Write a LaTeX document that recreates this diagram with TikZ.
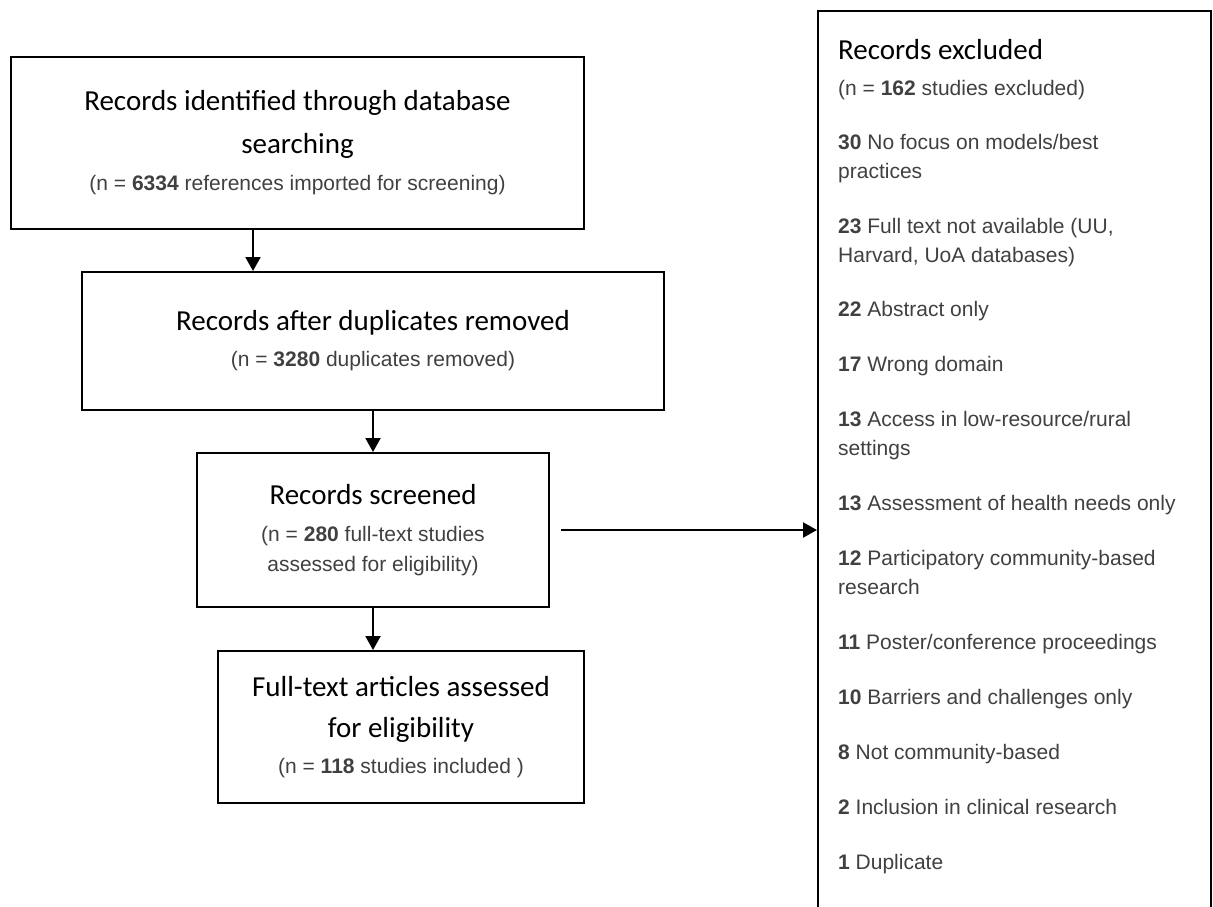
\documentclass[tikz,border=0pt]{standalone}
\usepackage{fontspec}
\setmainfont{Liberation Sans}
\newfontfamily\headfam{Carlito}
\usepackage{xcolor}
\usetikzlibrary{arrows.meta,positioning}
\definecolor{bodygray}{HTML}{404040}
\newcommand{\headtxt}{\headfam\fontsize{29}{43}\selectfont}
\newcommand{\subtxt}{\rmfamily\fontsize{21}{29}\selectfont\color{bodygray}}
\tikzset{
  stage/.style ={draw=black,line width=2pt,align=center,inner sep=0pt,font=\headtxt},
  excbox/.style={draw=black,line width=2pt,inner sep=0pt},
  flow/.style  ={-{Triangle[length=14pt,width=15pt]},line width=2pt,draw=black}
}

\begin{document}
\begin{tikzpicture}[x=1pt,y=-1pt]
  \useasboundingbox (0,0) rectangle (1213,906);
  % main stream
  \node[stage,minimum width=573pt,minimum height=172pt] (search) at (297.5,143)
    {Records identified through database\\searching\\[-6pt]
     {\subtxt (n = \textbf{6334} references imported for screening)}};
  \node[stage,minimum width=582pt,minimum height=138pt] (dedup) at (373,341)
    {Records after duplicates removed\\[-7pt]
     {\subtxt (n = \textbf{3280} duplicates removed)}};
  \node[stage,minimum width=352pt,minimum height=154pt] (screen) at (373,530)
    {Records screened\\[-6pt]
     {\subtxt (n = \textbf{280} full-text studies}\\[-13pt]
     {\subtxt assessed for eligibility)}};
  \node[stage,minimum width=366pt,minimum height=152pt] (full) at (401,727)
    {Full-text articles assessed\\[-2pt]for eligibility\\[-7pt]
     {\subtxt (n = \textbf{118} studies included )}};
  % exclusions
  \node[excbox,anchor=north west,minimum width=393pt,minimum height=930pt] (excl) at (817,10) {};
  \node[anchor=west,inner sep=0pt,font=\headtxt] (exhead) at (838,50) {Records excluded};
  \node[anchor=north west,inner sep=0pt,align=left,font=\subtxt] (exlist) at (838,80)
    {(n = \textbf{162} studies excluded)\\[25.5pt]
     \textbf{30} No focus on models/best\\practices\\[25.5pt]
     \textbf{23} Full text not available (UU,\\Harvard, UoA databases)\\[25.5pt]
     \textbf{22} Abstract only\\[26pt]
     \textbf{17} Wrong domain\\[26pt]
     \textbf{13} Access in low-resource/rural\\settings\\[26pt]
     \textbf{13} Assessment of health needs only\\[26pt]
     \textbf{12} Participatory community-based\\research\\[26pt]
     \textbf{11} Poster/conference proceedings\\[26pt]
     \textbf{10} Barriers and challenges only\\[26pt]
     \textbf{8} Not community-based\\[26pt]
     \textbf{2} Inclusion in clinical research\\[26pt]
     \textbf{1} Duplicate};
  \coordinate (drop) at (253,0);
  \draw[flow] (drop |- search.south) -- (drop |- dedup.north);
  \draw[flow] (dedup.south) -- (screen.north);
  \draw[flow] (screen.south) -- (screen.south |- full.north);
  \draw[flow] ([xshift=11pt]screen.east) -- (screen.east -| excl.west);
\end{tikzpicture}
\end{document}
